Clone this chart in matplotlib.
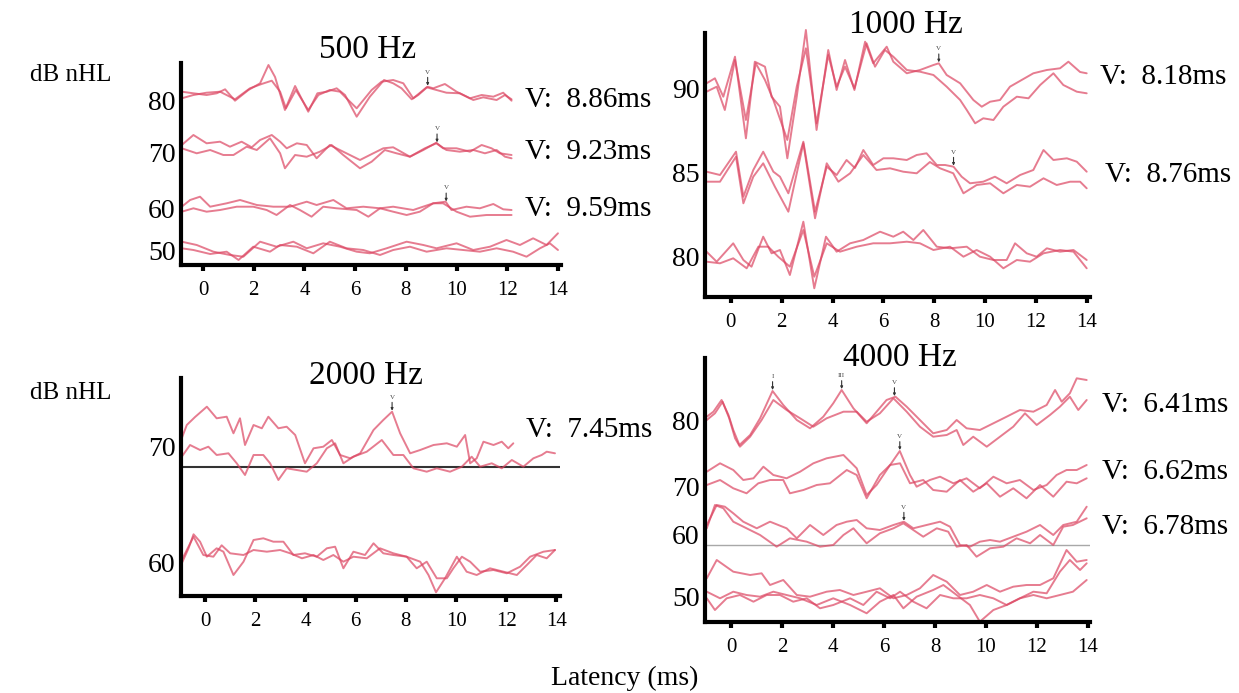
import numpy as np
import matplotlib.pyplot as plt

plt.rcParams["font.family"] = ["Liberation Serif", "DejaVu Serif"]

# ABR traces: (latency ms, amplitude a.u.) pairs, two runs per stimulus level
HZ500_80_A = [(-0.84, 8.3), (-0.38, 6.7), (0.14, 5.0), (0.54, 6.7), (0.87, 10.7), (1.26, -0.7), (1.79, 10.0),
              (2.25, 16.7), (2.58, 35.0), (2.84, 23.0), (3.23, -10.0), (3.63, 14.0), (4.15, -11.7), (4.51, 6.7),
              (4.88, 8.3), (5.27, 11.7), (5.60, 5.0), (6.06, -16.7), (6.58, 3.3), (7.14, 20.0), (7.50, 16.7),
              (7.83, 11.7), (8.23, 0.7), (8.49, 5.0), (8.86, 13.3), (9.08, 11.7), (9.54, 16.0), (10.00, 8.3),
              (10.53, 1.7), (10.99, 5.0), (11.45, 3.3), (11.84, 7.3), (12.17, -0.7)]
HZ500_80_B = [(-0.84, 1.7), (-0.38, 5.0), (0.14, 7.3), (0.67, 8.3), (1.26, 0.7), (1.85, 11.7), (2.31, 16.0),
              (2.71, 19.3), (3.04, 8.3), (3.27, -8.3), (3.66, 10.0), (4.15, -10.0), (4.55, 5.0), (5.00, 10.0),
              (5.40, 8.3), (5.66, 1.7), (6.06, -8.3), (6.65, 10.0), (7.04, 18.3), (7.50, 20.0), (7.90, 16.7),
              (8.29, 1.7), (8.82, 12.7), (9.21, 10.0), (9.60, 7.3), (10.13, 6.7), (10.66, 0.0), (11.05, 2.7),
              (11.58, 0.0), (11.91, 5.0), (12.17, 0.7)]
HZ500_70_A = [(-0.84, 8.0), (-0.38, 18.0), (0.14, 9.7), (0.67, 11.3), (1.06, 6.3), (1.52, 11.3), (1.92, 5.7),
              (2.25, 13.0), (2.71, 18.0), (3.04, 11.3), (3.30, 4.7), (3.70, 9.7), (4.09, 8.0), (4.48, -5.3),
              (5.00, 8.0), (5.53, 1.3), (6.19, -7.0), (6.58, -2.0), (7.11, 4.7), (7.50, 5.7), (8.16, -3.7),
              (8.69, 3.0), (9.20, 10.3), (9.47, 4.7), (10.00, 4.7), (10.53, 1.3), (10.99, 8.0), (11.38, 4.7),
              (11.71, -0.3), (12.17, -2.0)]
HZ500_70_B = [(-0.84, 4.7), (-0.25, -0.3), (0.28, 3.0), (0.80, -2.0), (1.20, -2.0), (1.72, 6.3), (2.12, 3.0),
              (2.64, 14.7), (3.04, -0.3), (3.23, -15.3), (3.63, -2.0), (4.09, -3.7), (4.61, 1.3), (5.07, 8.0),
              (5.53, -2.0), (6.19, -15.3), (6.65, -8.7), (7.17, 3.0), (7.63, -0.3), (8.16, -3.7), (8.75, 4.7),
              (9.20, 9.7), (9.60, 3.0), (10.13, 1.3), (10.66, 3.0), (11.12, -0.3), (11.58, 3.0), (11.91, -3.7),
              (12.17, -5.3)]
HZ500_60_A = [(-0.84, 2.3), (-0.51, 9.0), (-0.12, 12.3), (0.28, 2.3), (0.93, 5.7), (1.46, 9.0), (2.12, 4.0),
              (2.77, 2.3), (3.43, 2.3), (4.09, 7.3), (4.48, 4.0), (5.14, 9.0), (5.66, 0.7), (6.32, 2.3),
              (6.98, 0.7), (7.50, 2.3), (8.29, -1.0), (9.08, 5.7), (9.57, 7.3), (9.80, -1.0), (10.39, 2.3),
              (10.92, 0.7), (11.45, 5.0), (11.84, -0.3), (12.17, -1.0)]
HZ500_60_B = [(-0.84, -2.7), (-0.38, 0.7), (0.14, -2.7), (0.67, -1.0), (1.33, 2.3), (1.98, 2.3), (2.51, -1.0),
              (2.90, -6.0), (3.43, 4.0), (3.82, -1.0), (4.28, -7.7), (4.74, 2.3), (5.27, 0.7), (6.06, -1.0),
              (6.52, -7.7), (6.98, 0.7), (7.50, -2.7), (8.03, -6.0), (8.55, -2.7), (9.08, 5.7), (9.47, 5.7),
              (10.00, -2.7), (10.53, -7.7), (11.18, -6.0), (11.71, -6.0), (12.17, -6.0)]
HZ500_50_A = [(-0.84, 8.3), (-0.25, 5.0), (0.41, -1.7), (1.06, -5.0), (1.59, -6.7), (2.25, 8.3), (2.90, 3.3),
              (3.56, 8.3), (4.09, 1.7), (4.74, 6.7), (5.40, 3.3), (6.06, -1.7), (6.58, -3.3), (7.24, 1.7),
              (8.03, 8.3), (8.69, 5.0), (9.21, 1.7), (10.00, 6.7), (10.66, 0.0), (11.32, 3.3), (11.97, 10.0),
              (12.50, 5.0), (13.02, 11.7), (13.55, 5.0), (14.00, 16.7)]
HZ500_50_B = [(-0.84, 1.7), (-0.38, 0.0), (0.28, -4.0), (0.93, -1.7), (1.40, -10.0), (1.98, 3.3), (2.64, -1.7),
              (3.04, 5.0), (3.70, 3.3), (4.35, -3.3), (5.00, 8.3), (5.66, 1.7), (6.32, 0.0), (6.98, -5.0),
              (7.50, 0.0), (8.16, 3.3), (8.82, -1.7), (9.60, 1.7), (10.26, 0.0), (10.92, -1.7), (11.58, 1.7),
              (12.23, -1.7), (12.76, -6.7), (13.29, 1.7), (13.68, 6.7), (14.00, 0.0)]

HZ1000_90_A = [(-0.96, 4.7), (-0.63, 9.7), (-0.30, -8.7), (0.16, 31.3), (0.59, -50.3), (0.94, 26.3),
               (1.34, 21.3), (1.60, -8.7), (1.93, -18.7), (2.22, -70.3), (2.59, -8.7), (2.95, 58.0),
               (3.37, -42.0), (3.83, 38.0), (4.16, -2.0), (4.49, 28.0), (4.86, -2.0), (5.28, 46.3), (5.60, 24.7),
               (6.13, 41.3), (6.39, 26.3), (6.92, 14.7), (7.44, 18.0), (7.97, 23.0), (8.18, 24.7), (8.49, 13.0),
               (9.02, 4.7), (9.54, -12.0), (9.87, -18.7), (10.20, -13.7), (10.59, -12.0), (10.98, 1.3),
               (11.44, 8.0), (11.90, 14.7), (12.43, 18.0), (12.95, 19.7), (13.28, 26.3), (13.74, 16.0),
               (14.00, 14.7)]
HZ1000_90_B = [(-0.96, -3.7), (-0.56, 1.3), (-0.24, -22.0), (0.16, 28.0), (0.59, -32.0), (0.98, 24.7),
               (1.34, 8.0), (1.67, -12.0), (2.22, -52.0), (2.59, 1.3), (2.95, 39.7), (3.37, -35.3), (3.83, 33.0),
               (4.16, 1.3), (4.49, 21.3), (4.86, -0.3), (5.34, 44.7), (5.67, 21.3), (6.06, 38.0), (6.39, 31.3),
               (6.92, 18.0), (7.44, 16.3), (7.97, 13.0), (8.49, 1.3), (9.02, -12.0), (9.28, -22.0),
               (9.61, -35.3), (9.93, -30.3), (10.33, -32.0), (10.72, -18.7), (11.25, -8.7), (11.71, -10.3),
               (12.17, 3.0), (12.69, 14.7), (13.08, 3.0), (13.61, -3.7), (14.00, -5.3)]
HZ1000_85_A = [(-0.96, 1.3), (-0.43, -2.0), (0.20, 21.3), (0.49, -23.7), (0.88, 3.0), (1.27, 21.3), (1.67, 1.3),
               (1.93, -3.7), (2.26, -20.3), (2.85, 31.3), (3.31, -38.7), (3.77, 6.3), (4.16, -2.0), (4.55, 13.0),
               (4.88, 5.0), (5.21, 23.0), (5.60, 8.0), (6.00, 14.7), (6.39, 14.7), (6.92, 13.0), (7.31, 18.0),
               (7.70, 19.7), (8.10, 8.0), (8.43, 8.0), (8.76, 6.3), (9.08, -3.7), (9.41, -10.3), (9.93, -8.7),
               (10.39, -3.7), (10.85, -10.3), (11.38, -2.0), (11.90, 3.0), (12.30, 23.0), (12.69, 13.0),
               (13.22, 14.7), (13.61, 11.3), (14.00, 1.3)]
HZ1000_85_B = [(-0.96, -8.7), (-0.43, -8.7), (0.20, 16.3), (0.49, -30.3), (0.88, -3.7), (1.27, 9.7),
               (1.73, -13.7), (2.26, -38.7), (2.85, 29.7), (3.31, -45.3), (3.77, 9.7), (4.23, -8.7), (4.69, -0.3),
               (5.21, 18.0), (5.73, 3.0), (6.26, 4.7), (6.78, 1.3), (7.31, -0.3), (7.83, 11.0), (8.23, 4.7),
               (8.75, -0.3), (9.15, -20.3), (9.67, -12.0), (10.20, -10.3), (10.72, -20.3), (11.25, -12.0),
               (11.77, -13.7), (12.30, -5.3), (12.82, -12.0), (13.35, -8.7), (13.74, -8.7), (14.00, -15.3)]
HZ1000_80_A = [(-0.96, 5.3), (-0.56, -4.7), (0.09, 13.7), (0.49, -3.0), (0.81, -9.7), (1.27, 20.3), (1.60, 3.7),
               (1.93, 7.0), (2.32, -18.0), (2.85, 35.3), (3.28, -31.3), (3.74, 20.3), (4.16, 5.3), (4.69, 13.7),
               (5.21, 17.0), (5.87, 25.3), (6.39, 20.3), (6.78, 25.3), (7.18, 17.0), (7.57, 27.0), (8.10, 10.3),
               (8.62, 8.7), (9.28, 10.3), (9.80, 0.3), (10.33, -3.0), (10.85, -3.0), (11.18, 13.7), (11.64, 3.7),
               (12.03, 0.3), (12.43, 8.7), (12.95, 5.3), (13.48, 7.0), (14.00, -3.0)]
HZ1000_80_B = [(-0.96, -4.7), (-0.43, -6.3), (0.09, -1.3), (0.62, -11.3), (1.08, 10.3), (1.47, 10.3),
               (1.86, 0.3), (2.32, -9.7), (2.85, 27.0), (3.28, -19.7), (3.77, 13.7), (4.29, 5.3), (4.95, 10.3),
               (5.60, 13.7), (6.26, 13.7), (6.92, 15.3), (7.44, 13.7), (7.97, 7.0), (8.62, 10.3), (9.15, 0.3),
               (9.67, 7.0), (10.20, 0.3), (10.72, -11.3), (11.25, -3.0), (11.77, -4.7), (12.30, 3.7),
               (12.95, 7.0), (13.48, 5.3), (14.00, -11.3)]

HZ2000_70_A = [(-0.93, 8.7), (-0.73, 22.0), (-0.40, 30.0), (0.07, 40.3), (0.46, 28.7), (0.86, 30.3), (1.13, 13.7),
               (1.39, 28.7), (1.59, 2.0), (1.93, 22.0), (2.26, 18.7), (2.52, 30.3), (2.92, 18.7), (3.25, 20.3),
               (3.59, 12.0), (3.98, -16.3), (4.32, -1.3), (4.71, 0.3), (5.05, 7.0), (5.38, -8.0), (5.78, -11.3),
               (6.18, -6.3), (6.71, 17.0), (7.10, 27.0), (7.45, 35.3), (7.77, 13.7), (8.17, -6.3), (8.57, -3.0),
               (9.10, 2.0), (9.63, 3.7), (10.03, 0.3), (10.36, 12.0), (10.56, -16.3), (10.82, -11.3),
               (11.09, 5.3), (11.49, 2.0), (11.82, 5.3), (12.08, -1.3), (12.28, 3.7)]
HZ2000_70_B = [(-0.93, -9.7), (-0.60, 2.0), (-0.20, -3.0), (0.13, 0.3), (0.46, -8.0), (0.93, -6.3),
               (1.26, -16.3), (1.59, -28.0), (1.93, -8.0), (2.32, -8.0), (2.59, -16.3), (2.92, -33.0),
               (3.25, -21.3), (3.65, -23.0), (4.05, -24.7), (4.45, -16.3), (4.85, -1.3), (5.18, 3.7),
               (5.51, -16.3), (5.91, -9.7), (6.44, -4.7), (7.04, 7.0), (7.50, -8.0), (7.90, -8.0), (8.30, -21.3),
               (8.83, -24.7), (9.23, -21.3), (9.76, -24.7), (10.23, -19.7), (10.62, -9.7), (10.96, -19.7),
               (11.42, -16.3), (11.82, -21.3), (12.22, -13.0), (12.68, -19.7), (13.08, -11.3), (13.41, -8.0),
               (13.61, -4.7), (13.94, -6.3)]
HZ2000_60_A = [(-0.93, -0.3), (-0.66, 14.7), (-0.46, 28.7), (-0.20, 21.3), (0.07, 6.3), (0.46, 14.7),
               (0.73, 11.3), (1.13, -12.0), (1.53, 1.3), (1.93, 23.0), (2.32, 24.7), (2.72, 21.3), (3.12, 21.3),
               (3.52, 8.0), (3.98, 9.7), (4.45, 6.3), (4.85, 14.7), (5.18, 16.3), (5.51, -5.3), (5.91, 11.3),
               (6.37, 8.0), (6.71, 19.7), (7.10, 9.7), (7.50, 8.0), (8.03, 6.3), (8.43, -5.3), (8.83, 1.3),
               (9.23, -15.3), (9.63, -15.3), (9.89, -5.3), (10.23, 6.3), (10.56, 1.3), (10.96, -8.7),
               (11.49, -7.0), (12.02, -10.3), (12.55, -3.7), (12.95, 6.3), (13.48, 11.3), (13.94, 13.0)]
HZ2000_60_B = [(-0.93, 3.0), (-0.46, 26.3), (-0.07, 8.0), (0.33, 6.3), (0.66, 17.7), (1.00, 9.7), (1.53, 8.0),
               (1.93, 13.0), (2.46, 11.3), (2.99, 13.0), (3.39, 9.7), (3.86, 4.7), (4.32, 8.0), (4.71, 3.0),
               (5.11, 8.0), (5.51, 1.3), (5.91, 6.3), (6.44, 4.7), (6.97, 14.7), (7.50, 9.7), (8.03, 6.3),
               (8.57, 1.3), (8.90, -12.0), (9.20, -29.3), (9.56, -15.3), (10.03, 6.3), (10.42, -8.7),
               (10.82, -12.0), (11.35, -5.3), (11.89, -8.7), (12.42, -12.0), (12.82, -2.0), (13.21, 8.0),
               (13.61, 4.7), (13.94, 13.0)]

HZ4000_80_A = [(-0.95, 3.3), (-0.69, 8.3), (-0.37, 20.0), (-0.10, 5.0), (0.09, -10.0), (0.33, -25.0),
               (0.75, -15.0), (1.14, 1.7), (1.63, 29.0), (2.05, 15.0), (2.58, 0.0), (3.10, -8.3), (3.62, 3.3),
               (4.01, 16.7), (4.34, 30.0), (4.80, 11.7), (5.32, -3.3), (5.71, 8.3), (6.10, 20.0), (6.45, 23.3),
               (6.89, 13.3), (7.41, 0.0), (7.93, -13.3), (8.46, -10.0), (8.85, 0.0), (9.24, -8.3), (9.76, -10.0),
               (10.29, -3.3), (10.81, 3.3), (11.33, 10.0), (11.86, 8.3), (12.38, 15.0), (12.71, 30.0),
               (12.97, 18.3), (13.29, 26.7), (13.56, 41.7), (13.95, 40.0)]
HZ4000_80_B = [(-0.95, 0.0), (-0.63, 6.7), (-0.33, 18.3), (-0.07, 1.7), (0.16, -18.3), (0.35, -26.7),
               (0.75, -16.7), (1.20, 0.0), (1.66, 20.0), (2.18, 10.0), (2.71, 1.7), (3.23, -6.7), (3.75, 1.7),
               (4.41, 8.3), (4.93, 8.3), (5.32, -1.7), (5.84, 6.7), (6.37, 21.7), (6.89, 8.3), (7.41, -6.7),
               (7.93, -16.7), (8.46, -15.0), (8.85, -10.0), (9.11, -25.0), (9.50, -16.7), (10.03, -26.7),
               (10.55, -16.7), (11.07, -6.7), (11.53, 6.7), (11.99, -5.0), (12.51, 5.0), (12.90, 13.3),
               (13.29, 23.3), (13.62, 10.0), (13.95, 20.0)]
HZ4000_70_A = [(-0.95, 15.3), (-0.43, 23.7), (0.09, 17.0), (0.48, 7.0), (0.88, 8.7), (1.27, 20.3), (1.66, 12.0),
               (2.18, 8.7), (2.71, 15.3), (3.23, 23.7), (3.75, 28.7), (4.41, 32.0), (4.93, 18.7), (5.32, -8.0),
               (5.71, 2.0), (6.24, 22.0), (6.62, 36.0), (7.02, 12.0), (7.28, 0.3), (7.80, 7.0), (8.20, 10.3),
               (8.72, 3.7), (9.24, 8.7), (9.76, -1.3), (10.29, 10.3), (10.81, 3.7), (11.33, 7.0), (11.86, -3.0),
               (12.38, 2.0), (12.77, 12.0), (13.16, 17.0), (13.56, 17.0), (13.95, 22.0)]
HZ4000_70_B = [(-0.95, 2.0), (-0.43, 7.0), (0.09, -1.3), (0.61, -6.3), (1.07, 3.7), (1.53, 7.0), (2.05, 7.0),
               (2.31, -6.3), (2.84, -3.0), (3.36, 2.0), (3.88, 3.7), (4.54, 17.0), (4.93, 12.0), (5.32, -11.3),
               (5.84, 12.0), (6.24, 22.0), (6.63, 23.7), (7.02, 3.7), (7.54, 7.0), (7.93, -3.0), (8.46, -4.7),
               (8.98, 7.0), (9.50, -4.7), (10.03, 3.7), (10.55, -9.7), (11.07, -1.3), (11.59, -11.3),
               (12.12, 2.0), (12.64, -9.7), (13.16, 5.3), (13.56, 3.7), (13.95, 8.7)]
HZ4000_60_A = [(-0.95, 10.0), (-0.56, 30.0), (-0.24, 28.3), (0.09, 21.7), (0.48, 13.3), (1.01, 6.7), (1.53, 13.3),
               (2.18, 6.7), (2.58, -3.3), (3.10, 10.0), (3.62, 0.0), (4.14, 10.0), (4.54, 13.3), (4.93, 15.0),
               (5.32, 6.7), (5.84, 5.0), (6.37, 10.0), (6.78, 13.3), (7.15, 6.7), (7.67, 10.0), (8.20, 13.3),
               (8.59, 8.3), (8.98, -10.0), (9.37, -11.7), (9.76, -6.7), (10.16, -5.0), (10.55, -6.7),
               (11.07, -1.7), (11.59, 3.3), (12.12, 10.0), (12.64, 0.0), (13.03, 10.0), (13.56, 13.3),
               (13.95, 28.3)]
HZ4000_60_B = [(-0.95, 6.7), (-0.63, 30.0), (-0.30, 26.7), (0.09, 13.3), (0.61, 6.7), (1.14, 0.0), (1.79, -11.7),
               (2.31, -3.3), (2.97, -6.7), (3.49, -11.7), (4.01, -10.0), (4.41, 0.0), (4.80, 6.7), (5.32, -8.3),
               (5.84, 1.7), (6.37, 6.7), (6.76, 11.7), (7.15, 5.0), (7.54, -1.7), (8.07, 6.7), (8.52, 3.3),
               (8.85, -11.7), (9.24, -10.0), (9.63, -21.7), (10.16, -13.3), (10.68, -11.7), (11.20, -3.3),
               (11.73, -8.3), (12.12, 0.0), (12.64, -10.0), (13.03, 8.3), (13.41, 10.0), (13.95, 16.7)]
HZ4000_50_A = [(-0.95, 18.7), (-0.56, 37.0), (0.09, 25.3), (0.75, 22.0), (1.20, 23.7), (1.53, 12.0), (2.05, 17.0),
               (2.58, 2.0), (3.10, 0.3), (3.75, 5.3), (4.27, 7.0), (4.80, 2.0), (5.32, 5.3), (5.84, 8.7),
               (6.37, -1.3), (6.89, 2.0), (7.41, 8.7), (7.93, 22.0), (8.46, 15.3), (8.98, 2.0), (9.50, 5.3),
               (10.03, 12.0), (10.55, 5.3), (11.07, 10.3), (11.59, 12.0), (12.12, 12.0), (12.64, 18.7),
               (13.16, 47.0), (13.56, 35.3), (13.95, 37.0)]
HZ4000_50_B = [(-0.95, 5.3), (-0.43, -1.3), (0.09, 5.3), (0.61, 2.0), (1.14, 0.3), (1.66, 5.3), (2.18, 2.0),
               (2.71, -1.3), (3.36, -8.0), (4.01, -1.3), (4.67, -8.0), (5.32, -16.3), (5.84, -4.7), (6.37, 2.0),
               (6.76, -11.3), (7.28, 0.3), (7.93, 7.0), (8.33, 12.0), (8.85, 2.0), (9.37, -8.0), (9.76, -24.7),
               (10.29, -13.0), (10.81, -8.0), (11.33, -1.3), (11.86, 5.3), (12.38, 3.7), (12.90, 25.3),
               (13.29, 37.0), (13.69, 27.0), (13.95, 33.7)]
HZ4000_50_C = [(-0.95, -1.3), (-0.63, -13.0), (-0.17, -1.3), (0.35, 2.0), (0.88, -4.7), (1.40, 2.0), (1.92, 2.0),
               (2.44, -4.7), (2.97, -1.3), (3.49, -11.3), (4.01, -8.0), (4.67, -1.3), (5.19, -8.0), (5.71, 5.3),
               (6.24, -1.3), (6.63, 5.3), (7.15, -4.7), (7.67, -11.3), (8.20, 2.0), (8.72, -1.3), (9.24, -1.3),
               (9.76, 2.0), (10.29, -1.3), (10.81, -8.0), (11.33, -1.3), (11.86, 2.0), (12.38, -1.3),
               (12.90, 2.0), (13.41, 5.3), (13.95, 17.0)]

LEVELS_500 = [80, 70, 60, 50]
LEVELS_1000 = [90, 85, 80]
LEVELS_2000 = [70, 60]
LEVELS_4000 = [80, 70, 60, 50]

# wave V latency (ms) picked at each level, None where no response was marked
WAVE_V_500 = [8.86, 9.23, 9.59, None]
WAVE_V_1000 = [8.18, 8.76, None]
WAVE_V_2000 = [7.45, None]
WAVE_V_4000 = [6.41, 6.62, 6.78, None]
# waves I and III on the 4000 Hz / 80 dB trace
EXTRA_PEAKS_4000 = [("I", 1.63), ("III", 4.34)]

XTICKS = list(range(0, 15, 2))

# --- layout (pixels on a 1239 x 693 canvas) ---
W, H = 1239, 693
TRACE_COLOR = "#dc4561"


def box(left, top, right, bottom):
    return [left / W, 1 - bottom / H, (right - left) / W, (bottom - top) / H]


panels = [
    dict(title="500 Hz", title_xy=(368, 50), rect=(181, 63, 561, 265), xlim=(-0.87, 14.12),
         height=202, base=[165, 112, 56, 15], levels=LEVELS_500, wave_v=WAVE_V_500,
         traces=[[HZ500_80_A, HZ500_80_B], [HZ500_70_A, HZ500_70_B],
                 [HZ500_60_A, HZ500_60_B], [HZ500_50_A, HZ500_50_B]],
         vlabels=[(525, 100), (525, 152), (525, 209)]),
    dict(title="1000 Hz", title_xy=(906, 25), rect=(705, 33, 1090, 297), xlim=(-1.02, 14.13),
         height=264, base=[209, 124, 40], levels=LEVELS_1000, wave_v=WAVE_V_1000,
         traces=[[HZ1000_90_A, HZ1000_90_B], [HZ1000_85_A, HZ1000_85_B], [HZ1000_80_A, HZ1000_80_B]],
         vlabels=[(1100, 77), (1105, 175)]),
    dict(title="2000 Hz", title_xy=(366, 376), rect=(181, 378, 560, 596), xlim=(-0.96, 14.14),
         height=218, base=[149, 33], levels=LEVELS_2000, wave_v=WAVE_V_2000,
         traces=[[HZ2000_70_A, HZ2000_70_B], [HZ2000_60_A, HZ2000_60_B]],
         vlabels=[(526, 430)], ref=(129, "#333333", 1.5)),
    dict(title="4000 Hz", title_xy=(900, 358), rect=(705, 358, 1090, 622), xlim=(-1.02, 14.08),
         height=264, base=[202, 135, 87, 25], levels=LEVELS_4000, wave_v=WAVE_V_4000,
         traces=[[HZ4000_80_A, HZ4000_80_B], [HZ4000_70_A, HZ4000_70_B],
                 [HZ4000_60_A, HZ4000_60_B], [HZ4000_50_A, HZ4000_50_B, HZ4000_50_C]],
         vlabels=[(1102, 405), (1102, 472), (1102, 527)], ref=(77, "#a8a8a8", 1.0),
         extra=EXTRA_PEAKS_4000),
]


def peak_height(runs, latency):
    return max(np.interp(latency, [p[0] for p in r], [p[1] for p in r]) for r in runs)


def mark_peak(ax, label, latency, y):
    # small wave label with a short arrow pointing down at the peak
    ax.annotate(label, xy=(latency, y + 1.0), xytext=(0, 8), textcoords="offset points",
                ha="center", va="bottom", fontsize=5, color="#444444",
                arrowprops=dict(arrowstyle="-|>", color="#333333", lw=0.8,
                                mutation_scale=3.5, shrinkA=0, shrinkB=0))


fig = plt.figure(figsize=(W / 100, H / 100), dpi=100)

for p in panels:
    ax = fig.add_axes(box(*p["rect"]))
    for offset, runs in zip(p["base"], p["traces"]):
        for run in runs:
            t = [q[0] for q in run]
            a = [q[1] for q in run]
            ax.plot(t, np.array(a) + offset, color=TRACE_COLOR, lw=1.4, alpha=0.7,
                    solid_joinstyle="round", solid_capstyle="round", clip_on=False)
    if "ref" in p:
        y, c, lw = p["ref"]
        ax.axhline(y, color=c, lw=lw, zorder=1)

    for offset, runs, lat in zip(p["base"], p["traces"], p["wave_v"]):
        if lat is not None:
            mark_peak(ax, "V", lat, offset + peak_height(runs, lat))
    for label, lat in p.get("extra", []):
        mark_peak(ax, label, lat, p["base"][0] + peak_height(p["traces"][0], lat))

    ax.set_xlim(*p["xlim"])
    ax.set_ylim(0, p["height"])
    ax.set_xticks(XTICKS)
    ax.set_yticks(p["base"])
    ax.set_yticklabels([str(v) for v in p["levels"]])
    for side in ("top", "right"):
        ax.spines[side].set_visible(False)
    for side in ("left", "bottom"):
        ax.spines[side].set_linewidth(3)
    ax.tick_params(axis="x", direction="out", length=4.5, width=3, labelsize=15, pad=7)
    ax.tick_params(axis="y", length=0, labelsize=20, pad=4)
    ax.patch.set_alpha(0)

    tx, ty = p["title_xy"]
    fig.text(tx / W, 1 - ty / H, p["title"], fontsize=24, ha="center", va="center")
    for (vx, vy), lat in zip(p["vlabels"], p["wave_v"]):
        fig.text(vx / W, 1 - vy / H, f"V:  {lat:.2f}ms", fontsize=21, ha="left", va="center")

fig.text(71 / W, 1 - 75 / H, "dB nHL", fontsize=18, ha="center", va="center")
fig.text(71 / W, 1 - 393 / H, "dB nHL", fontsize=18, ha="center", va="center")
fig.text(625 / W, 1 - 678 / H, "Latency (ms)", fontsize=20, ha="center", va="center")

fig.savefig("out.png", dpi=100)
